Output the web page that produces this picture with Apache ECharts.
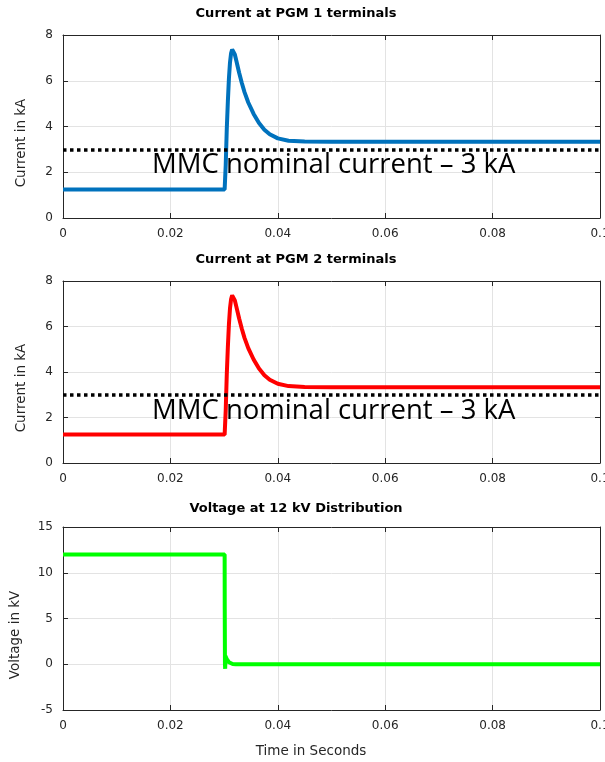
<!DOCTYPE html>
<html>
<head>
<meta charset="utf-8">
<script src="https://cdn.jsdelivr.net/npm/echarts@6/dist/echarts.min.js"></script>
<style>
html,body{margin:0;padding:0;background:#fff;overflow:hidden;}
#chart{width:605px;height:762px;}
</style>
</head>
<body>
<div id="chart"></div>
<script>
// ---- Data ----
const titles = ["Current at PGM 1 terminals", "Current at PGM 2 terminals", "Voltage at 12 kV Distribution"];
const yNames = ["Current in kA", "Current in kA", "Voltage in kV"];
const xName = "Time in Seconds";
const annotation = "MMC nominal current \u2013 3 kA";
const nominalCurrent = 3;

const time1 = [0, 0.0301, 0.0303, 0.0305, 0.0307, 0.0309, 0.0311, 0.0313, 0.0315, 0.03165, 0.0318, 0.0320, 0.0323, 0.0328, 0.0333, 0.0338, 0.0345, 0.0355, 0.0365, 0.0375, 0.0385, 0.0400, 0.0420, 0.0450, 0.0500, 0.1];
const current1 = [1.25, 1.25, 2.3, 3.9, 5.1, 6.1, 6.8, 7.2, 7.37, 7.4, 7.35, 7.15, 6.85, 6.35, 5.9, 5.5, 5.05, 4.55, 4.15, 3.86, 3.66, 3.48, 3.38, 3.34, 3.33, 3.33];

const time2 = [0, 0.0301, 0.0303, 0.0305, 0.0307, 0.0309, 0.0311, 0.0313, 0.0315, 0.03165, 0.0318, 0.0320, 0.0323, 0.0328, 0.0333, 0.0338, 0.0345, 0.0355, 0.0365, 0.0375, 0.0385, 0.0400, 0.0420, 0.0450, 0.0500, 0.1];
const current2 = [1.25, 1.25, 2.3, 3.9, 5.1, 6.1, 6.8, 7.2, 7.37, 7.4, 7.35, 7.15, 6.85, 6.35, 5.9, 5.5, 5.05, 4.55, 4.15, 3.86, 3.66, 3.48, 3.38, 3.34, 3.33, 3.33];

const timeV = [0, 0.0301, 0.03012, 0.03016, 0.0302, 0.03025, 0.0303, 0.0305, 0.0307, 0.0309, 0.0312, 0.0316, 0.0322, 0.0335, 0.1];
const voltage = [12, 12, 6, 0, -0.5, 0.9, 0.8, 0.55, 0.35, 0.22, 0.1, 0.03, 0, 0, 0];

const xTicks = {min: 0, max: 0.1, interval: 0.02};
const yTicksCurrent = {min: 0, max: 8, interval: 2};
const yTicksVoltage = {min: -5, max: 15, interval: 5};

// ---- Chart ----
const axisColor = '#262626';
const gridRects = [
  {left: 63, width: 537, top: 35, height: 183, outerBoundsMode: 'none', containLabel: false},
  {left: 63, width: 537, top: 281, height: 182, outerBoundsMode: 'none', containLabel: false},
  {left: 63, width: 537, top: 527, height: 183, outerBoundsMode: 'none', containLabel: false}
];
const zip = (xs, ys) => xs.map((x, i) => [x, ys[i]]);

const xAxes = [], yAxes = [];
gridRects.forEach((g, i) => {
  const common = {
    type: 'value', gridIndex: i, min: xTicks.min, max: xTicks.max, interval: xTicks.interval,
    axisLine: {show: true, onZero: false, lineStyle: {color: axisColor, width: 1}},
    axisTick: {show: true, inside: true, length: 5, lineStyle: {color: axisColor}}
  };
  xAxes.push(Object.assign({}, common, {
    position: 'bottom',
    axisLabel: {fontFamily: 'DejaVu Sans', fontSize: 12, color: axisColor, margin: 10},
    splitLine: {show: true, lineStyle: {color: '#e3e3e3', width: 1}}
  }));
  xAxes.push(Object.assign({}, common, {
    position: 'top', axisLabel: {show: false}, splitLine: {show: false}
  }));
  const yt = i < 2 ? yTicksCurrent : yTicksVoltage;
  const ycommon = {
    type: 'value', gridIndex: i, min: yt.min, max: yt.max, interval: yt.interval,
    axisLine: {show: true, onZero: false, lineStyle: {color: axisColor, width: 1}},
    axisTick: {show: true, inside: true, length: 5, lineStyle: {color: axisColor}}
  };
  yAxes.push(Object.assign({}, ycommon, {
    position: 'left',
    axisLabel: {fontFamily: 'DejaVu Sans', fontSize: 12, color: axisColor, margin: 10},
    splitLine: {show: true, lineStyle: {color: '#e3e3e3', width: 1}}
  }));
  yAxes.push(Object.assign({}, ycommon, {
    position: 'right', axisLabel: {show: false}, splitLine: {show: false}
  }));
});

const nominalMark = {
  silent: true, symbol: 'none', label: {show: false},
  lineStyle: {color: '#000', width: 3.5, type: [3.5, 3.5]},
  data: [{yAxis: nominalCurrent}]
};

const series = [
  {type: 'line', xAxisIndex: 0, yAxisIndex: 0, data: zip(time1, current1), showSymbol: false,
   lineStyle: {color: '#0072BD', width: 4}, itemStyle: {color: '#0072BD'}, z: 3,
   markLine: nominalMark},
  {type: 'line', xAxisIndex: 2, yAxisIndex: 2, data: zip(time2, current2), showSymbol: false,
   lineStyle: {color: '#FF0000', width: 4}, itemStyle: {color: '#FF0000'}, z: 3,
   markLine: nominalMark},
  {type: 'line', xAxisIndex: 4, yAxisIndex: 4, data: zip(timeV, voltage), showSymbol: false,
   lineStyle: {color: '#00FF00', width: 4}, itemStyle: {color: '#00FF00'}, z: 3}
];

const titleY = [14, 260, 509];
const yNameY = [143, 388, 635];
const yNameX = [21, 21, 15];
const graphic = [];
titles.forEach((t, i) => {
  graphic.push({type: 'text', x: 296, y: titleY[i], z: 1, style: {
    text: t, fontFamily: 'DejaVu Sans', fontWeight: 'bold', fontSize: 13,
    fill: '#000', textAlign: 'center', textVerticalAlign: 'middle'}});
  graphic.push({type: 'text', x: yNameX[i], y: yNameY[i], rotation: Math.PI / 2, z: 1, style: {
    text: yNames[i], fontFamily: 'DejaVu Sans', fontSize: 13.5,
    fill: axisColor, textAlign: 'center', textVerticalAlign: 'middle'}});
});
graphic.push({type: 'text', x: 311, y: 751, z: 1, style: {
  text: xName, fontFamily: 'DejaVu Sans', fontSize: 13.5,
  fill: axisColor, textAlign: 'center', textVerticalAlign: 'middle'}});
[165, 411].forEach(y => {
  graphic.push({type: 'text', x: 152, y: y, z: 1, style: {
    text: annotation, fontFamily: 'Open Sans', fontSize: 27.5,
    fill: '#000', textAlign: 'left', textVerticalAlign: 'middle'}});
});

const chart = echarts.init(document.getElementById('chart'), null, {renderer: 'canvas'});
chart.setOption({
  animation: false,
  backgroundColor: '#fff',
  grid: gridRects,
  xAxis: xAxes,
  yAxis: yAxes,
  series: series,
  graphic: graphic
});
</script>
</body>
</html>
